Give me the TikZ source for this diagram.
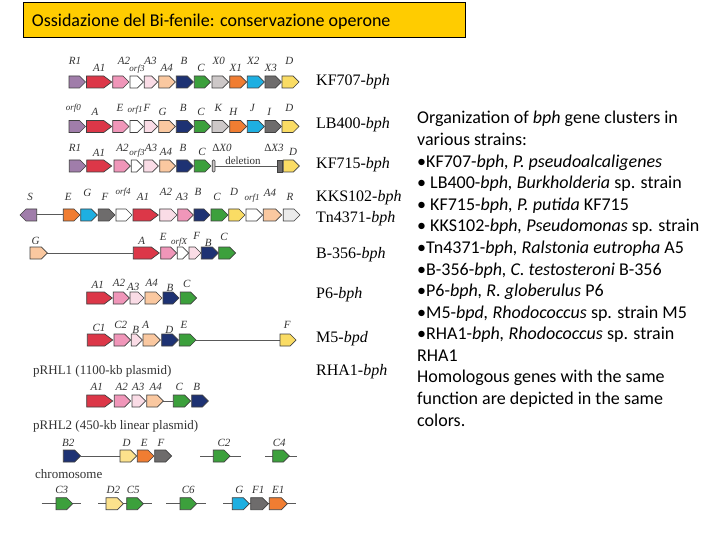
\documentclass[tikz,border=0pt]{standalone}
\usepackage{fontspec}
\setmainfont{Liberation Serif}
\newfontfamily\calfont{Carlito}
\definecolor{purp}{RGB}{160,125,170}
\definecolor{gred}{RGB}{220,55,72}
\definecolor{pinkb}{RGB}{240,150,185}
\definecolor{lpink}{RGB}{250,220,230}
\definecolor{peach}{RGB}{250,200,160}
\definecolor{navy}{RGB}{30,50,115}
\definecolor{grn}{RGB}{60,160,60}
\definecolor{lgray}{RGB}{205,200,200}
\definecolor{orng}{RGB}{240,125,50}
\definecolor{cyn}{RGB}{30,175,225}
\definecolor{dgray}{RGB}{110,108,108}
\definecolor{yel}{RGB}{250,220,100}
\definecolor{lyel}{RGB}{252,226,140}
\definecolor{vlgray}{RGB}{235,235,235}
\definecolor{gold}{RGB}{255,204,0}
\tikzset{
  gene/.style={draw=black!75,line width=0.7pt,line join=miter},
  chrline/.style={draw=black!65,line width=1pt},
  glab/.style={font=\fontsize{11}{13}\selectfont\itshape,inner sep=0pt,text=black!80},
  olab/.style={font=\fontsize{9}{11}\selectfont\itshape,inner sep=0pt,text=black!80},
  strain/.style={font=\fontsize{16}{18}\selectfont,inner sep=0pt,anchor=west},
  plab/.style={font=\fontsize{13}{15}\selectfont,inner sep=0pt,anchor=west,text=black!80},
  body/.style={font=\calfont\fontsize{18}{21.6}\selectfont,inner sep=0pt,anchor=base west}
}
\newcommand\gn[4]{\filldraw[gene,fill=#4] (#1,#3-6) -- ({#2-6},#3-6) -- (#2,#3) -- ({#2-6},#3+6) -- (#1,#3+6) -- cycle;}
\newcommand\gnw[4]{\filldraw[gene,fill=#4] (#1,#3-6) -- ({#2-8},#3-6) -- (#2,#3) -- ({#2-8},#3+6) -- (#1,#3+6) -- cycle;}
\newcommand\gnl[4]{\filldraw[gene,fill=#4] (#1,#3) -- ({#1+6},#3-6) -- (#2,#3-6) -- (#2,#3+6) -- ({#1+6},#3+6) -- cycle;}
\newcommand\gl[3]{\node[glab] at (#1,#2) {#3};}
\newcommand\ol[3]{\node[olab] at (#1,#2) {#3};}
\begin{document}
\begin{tikzpicture}[x=1pt,y=-1pt]
\useasboundingbox (0,0) rectangle (720,540);
\fill[white] (0,0) rectangle (720,540);
% title
\draw[fill=gold,line width=0.6pt] (23.3,2.7) rectangle (465,37.3);
\node[font=\calfont\fontsize{18}{21}\selectfont,inner sep=0pt,anchor=base west] (title) at (31.7,26.5) {Ossidazione del Bi-fenile: conservazione operone};
% row 1 KF707
\gn{69}{85.5}{82}{purp}\gnw{86.5}{111.7}{82}{gred}\gn{112.7}{129}{82}{pinkb}\gn{130}{143.3}{82}{white}\gn{144.3}{157.7}{82}{lpink}\gn{158.7}{175.3}{82}{peach}\gn{176.3}{193.3}{82}{navy}\gn{194.3}{210.7}{82}{grn}\gn{212}{228.7}{82}{lgray}\gn{229.7}{246.7}{82}{orng}\gn{247.3}{264.3}{82}{cyn}\gn{265}{281.3}{82}{dgray}\gn{282}{299}{82}{yel}
\gl{75}{61}{R1}\gl{99.3}{68}{A1}\gl{124}{61}{A2}\ol{137}{69.5}{orf3}\gl{150.5}{61}{A3}\gl{166.7}{68}{A4}\gl{184}{61}{B}\gl{201}{68}{C}\gl{218.7}{61}{X0}\gl{235.7}{68}{X1}\gl{253.3}{61}{X2}\gl{270.7}{68}{X3}\gl{289.3}{61}{D}
% row 2 LB400
\gn{69}{85.5}{126.5}{purp}\gnw{86.5}{111.7}{126.5}{gred}\gn{112.7}{129}{126.5}{pinkb}\gn{130}{143.3}{126.5}{white}\gn{144.3}{157.7}{126.5}{lpink}\gn{158.7}{175.3}{126.5}{peach}\gn{176.3}{193.3}{126.5}{navy}\gn{194.3}{210.7}{126.5}{grn}\gn{212}{228.7}{126.5}{lgray}\gn{229.7}{246.7}{126.5}{orng}\gn{247.3}{264.3}{126.5}{cyn}\gn{265}{281.3}{126.5}{dgray}\gn{282}{299}{126.5}{yel}
\ol{73.3}{108}{orf0}\gl{95}{112.3}{A}\gl{120}{107.7}{E}\ol{135}{110.5}{orf1}\gl{147}{107.7}{F}\gl{162.7}{112.3}{G}\gl{183.3}{107.7}{B}\gl{201}{112.3}{C}\gl{218.3}{107.7}{K}\gl{233.3}{112.3}{H}\gl{252.3}{107.7}{J}\gl{269.3}{112.3}{I}\gl{289.3}{107.7}{D}
% row 3 KF715
\draw[chrline] (215,166.5) -- (277,166.5);
\gn{69.3}{86}{166}{purp}\gnw{86.7}{111.7}{166}{gred}\gn{114}{130.3}{166}{pinkb}\gn{131.3}{142.7}{166}{white}\gn{143.7}{158.3}{166}{lpink}\gn{159.7}{175.7}{166}{peach}\gn{176.7}{193.3}{166}{navy}\gn{194.3}{211}{166}{grn}
\filldraw[gene,fill=lgray,rounded corners=1pt] (212.3,160) rectangle (215,172);
\filldraw[gene,fill=dgray] (277,160) rectangle (282.3,172);
\gn{283.3}{299.3}{166}{yel}
\gl{75}{148}{R1}\gl{99}{153}{A1}\gl{122.5}{148}{A2}\ol{137}{153}{orf3}\gl{151}{148}{A3}\gl{166}{152}{A4}\gl{183}{148}{B}\gl{202}{152}{C}\gl{222}{148}{\textup{Δ}X0}\gl{274}{148}{\textup{Δ}X3}\gl{293}{152}{D}
\node[font=\fontsize{11}{13}\selectfont,inner sep=0pt,text=black!80] (del) at (243,160.5) {deletion};
% row 4 KKS102
\draw[chrline] (36.7,215) -- (63.3,215);
\gnl{20}{36.7}{215}{purp}\gn{63.3}{80}{215}{orng}\gn{80.7}{97.3}{215}{cyn}\gn{98.3}{115}{215}{dgray}\gn{116}{132}{215}{white}\gnw{133}{158.3}{215}{gred}\gn{159.7}{177}{215}{lpink}\gn{177.7}{193.3}{215}{pinkb}\gn{194}{210}{215}{navy}\gn{211}{228}{215}{grn}\gn{228.7}{245}{215}{yel}\gn{246}{262.7}{215}{white}\gn{263.3}{281.7}{215}{peach}\gn{283.3}{300}{215}{vlgray}
\gl{30}{197}{S}\gl{68.3}{197}{E}\gl{87.3}{193}{G}\gl{105}{197}{F}\ol{123}{192}{orf4}\gl{143}{197}{A1}\gl{166}{192}{A2}\gl{182}{197}{A3}\gl{198}{192}{B}\gl{217}{197}{C}\gl{234}{192}{D}\ol{252}{198}{orf1}\gl{270}{193}{A4}\gl{290}{197}{R}
% B-356
\draw[chrline] (47.3,253) -- (133.3,253);
\gn{30}{47.3}{253}{peach}\gnw{133.3}{159.3}{253}{gred}\gn{160.7}{176.7}{253}{pinkb}\gn{177.3}{188.7}{253}{white}\gn{189}{201}{253}{lpink}\gn{201.3}{218.3}{253}{navy}\gn{218.7}{235.7}{253}{grn}
\gl{35.7}{241}{G}\gl{141.7}{241}{A}\gl{163.3}{237}{E}\ol{179}{242}{orfX}\gl{196.7}{236}{F}\gl{208.3}{243}{B}\gl{224}{237}{C}
% P6
\gnw{86.7}{112.3}{298}{gred}\gn{113.3}{129.3}{298}{pinkb}\gn{130}{144}{298}{lpink}\gn{145}{162}{298}{peach}\gn{163}{179}{298}{navy}\gn{180.3}{196.7}{298}{grn}
\gl{97.7}{285.3}{A1}\gl{119}{283}{A2}\gl{133.3}{287}{A3}\gl{151.7}{283}{A4}\gl{170}{288}{B}\gl{186.7}{284}{C}
% M5
\draw[chrline] (196,340) -- (280,340);
\gnw{87.3}{112.7}{340}{gred}\gn{114}{130.7}{340}{pinkb}\gn{131.3}{142.3}{340}{lpink}\gn{143}{160.3}{340}{peach}\gn{161.7}{178.3}{340}{navy}\gn{179.3}{196}{340}{grn}\gn{280}{296}{340}{yel}
\gl{99}{328.3}{C1}\gl{120.7}{325}{C2}\gl{135.7}{330}{B}\gl{145.7}{325}{A}\gl{169.3}{330}{D}\gl{184}{325}{E}\gl{287.3}{325}{F}
% RHA1 pRHL1
\node[plab] (p1) at (33,371.7) {pRHL1 (1100-kb plasmid)};
\draw[chrline] (163.3,401) -- (173.3,401);
\gnw{86.7}{112.7}{401}{gred}\gn{114.3}{130.7}{401}{pinkb}\gn{132}{145.7}{401}{lpink}\gn{146.7}{163.3}{401}{peach}\gn{173.3}{190.7}{401}{grn}\gn{191.7}{208.3}{401}{navy}
\gl{96.7}{387}{A1}\gl{121.7}{387}{A2}\gl{138.3}{387}{A3}\gl{155.7}{387}{A4}\gl{179.3}{387}{C}\gl{196.7}{387}{B}
% pRHL2
\node[plab] (p2) at (33,426.7) {pRHL2 (450-kb linear plasmid)};
\draw[chrline] (80.7,456) -- (120,456);
\draw[chrline] (200,456) -- (241,456);
\draw[chrline] (265,456) -- (296.7,456);
\gn{63.3}{80.7}{456}{navy}\gn{120}{136.7}{456}{lyel}\gn{137.3}{154}{456}{orng}\gn{154.7}{171.7}{456}{dgray}\gn{213.3}{230}{456}{grn}\gn{272.7}{289.3}{456}{grn}
\gl{68.3}{443}{B2}\gl{126.7}{443}{D}\gl{144.3}{443}{E}\gl{161}{443}{F}\gl{224}{443}{C2}\gl{279.3}{443}{C4}
% chromosome
\node[plab] (chr) at (35,474.3) {chromosome};
\draw[chrline] (41.7,503.7) -- (80.7,503.7);
\draw[chrline] (98.3,503.7) -- (151.7,503.7);
\draw[chrline] (166,503.7) -- (205.7,503.7);
\draw[chrline] (223.3,503.7) -- (296,503.7);
\gn{56}{72.7}{503.7}{grn}\gn{106}{123.3}{503.7}{lyel}\gn{126.7}{143.3}{503.7}{grn}\gn{180}{196.7}{503.7}{grn}\gn{232.3}{249.3}{503.7}{cyn}\gn{250.7}{268.3}{503.7}{dgray}\gn{269.3}{287.3}{503.7}{orng}
\gl{61.7}{490}{C3}\gl{113.3}{490}{D2}\gl{133.3}{490}{C5}\gl{188.3}{490}{C6}\gl{239.3}{490}{G}\gl{258.3}{490}{F1}\gl{278.3}{490}{E1}
% strain labels
\node[strain] (s1) at (316,81.7) {KF707-\textit{bph}};
\node[strain] (s2) at (316,125) {LB400-\textit{bph}};
\node[strain] (s3) at (316,165) {KF715-\textit{bph}};
\node[strain] (s4) at (316,197.7) {KKS102-\textit{bph}};
\node[strain] (s5) at (316,218.3) {Tn4371-\textit{bph}};
\node[strain] (s6) at (316,254.3) {B-356-\textit{bph}};
\node[strain] (s7) at (316,295) {P6-\textit{bph}};
\node[strain] (s8) at (316,338.3) {M5-\textit{bpd}};
\node[strain] (s9) at (316,371.7) {RHA1-\textit{bph}};
% right text
\node[body] (t0) at (417,124) {Organization of \textit{bph} gene clusters in};
\node[body] (t1) at (417,145.6) {various strains:};
\node[body] (t2) at (417,167.1) {•KF707-\textit{bph, P. pseudoalcaligenes}};
\node[body] (t3) at (417,188.7) {• LB400-\textit{bph, Burkholderia} sp. strain};
\node[body] (t4) at (417,210.3) {• KF715-\textit{bph, P. putida} KF715};
\node[body] (t5) at (417,231.9) {• KKS102-\textit{bph, Pseudomonas} sp. strain};
\node[body] (t6) at (417,253.4) {•Tn4371-\textit{bph, Ralstonia eutropha} A5};
\node[body] (t7) at (417,275) {•B-356-\textit{bph, C. testosteroni} B-356};
\node[body] (t8) at (417,296.6) {•P6-\textit{bph, R. globerulus} P6};
\node[body] (t9) at (417,318.1) {•M5-\textit{bpd, Rhodococcus} sp. strain M5};
\node[body] (t10) at (417,339.7) {•RHA1-\textit{bph, Rhodococcus} sp. strain};
\node[body] (t11) at (417,361.3) {RHA1};
\node[body] (t12) at (417,382.9) {Homologous genes with the same};
\node[body] (t13) at (417,404.4) {function are depicted in the same};
\node[body] (t14) at (417,426) {colors.};
\end{tikzpicture}
\end{document}
